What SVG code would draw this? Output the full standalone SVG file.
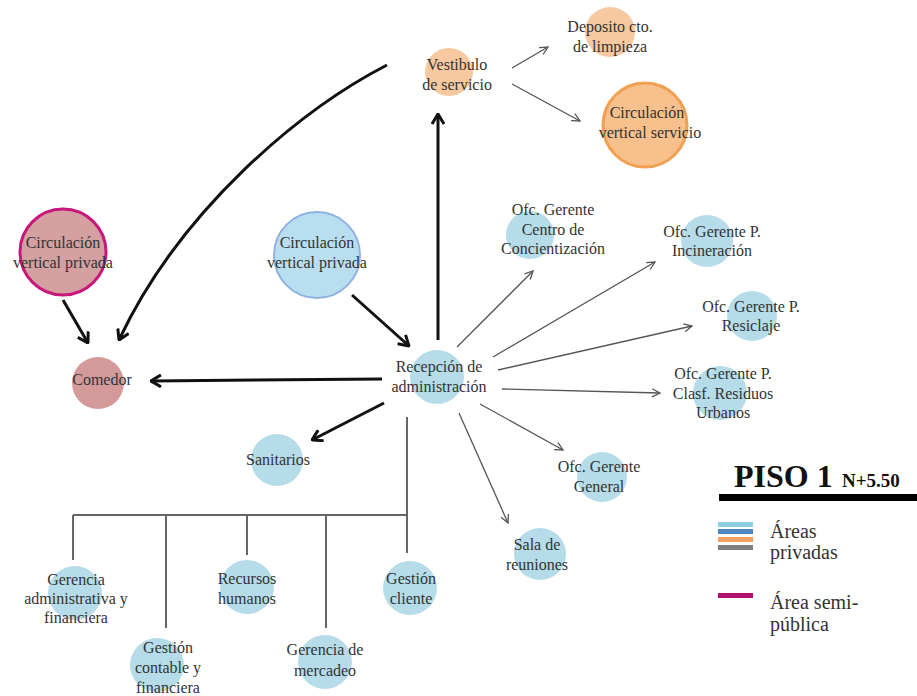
<svg xmlns="http://www.w3.org/2000/svg" width="917" height="696" viewBox="0 0 917 696">
<defs>
<style>
text{font-family:"Liberation Serif","DejaVu Serif",serif;fill:#333;}
.n{font-size:16px;text-anchor:middle;}
.lg{font-size:20px;}
.bl{fill:#b5dce8;}
.thick{stroke:#111;stroke-width:3;fill:none;}
.thin{stroke:#555;stroke-width:1.3;fill:none;}
.tree{stroke:#666;stroke-width:2;fill:none;}
</style>
<marker id="ah" viewBox="0 0 12 14" refX="11" refY="7" markerWidth="12" markerHeight="14" markerUnits="userSpaceOnUse" orient="auto"><path d="M1,1 L11,7 L1,13" fill="none" stroke="#111" stroke-width="3"/></marker>
<marker id="at" viewBox="0 0 10 10" refX="9" refY="5" markerWidth="10" markerHeight="10" markerUnits="userSpaceOnUse" orient="auto"><path d="M1,1 L9,5 L1,9" fill="none" stroke="#555" stroke-width="1.3"/></marker>
</defs>
<rect width="917" height="696" fill="#fff"/>

<g id="connectors">
<path class="thick" d="M438,340 L438,114" marker-end="url(#ah)"/>
<path class="thick" d="M387,65 C300,110 180,210 119,340" marker-end="url(#ah)"/>
<path class="thick" d="M63,300 L88,343" marker-end="url(#ah)"/>
<path class="thick" d="M352,295 L409,346" marker-end="url(#ah)"/>
<path class="thick" d="M382,379 L151,381" marker-end="url(#ah)"/>
<path class="thick" d="M384,403 L312,440" marker-end="url(#ah)"/>
<path class="thin" d="M512,68 L548,47" marker-end="url(#at)"/>
<path class="thin" d="M512,84 L580,121" marker-end="url(#at)"/>
<path class="thin" d="M457,347 L533,271" marker-end="url(#at)"/>
<path class="thin" d="M493,357 L655,262" marker-end="url(#at)"/>
<path class="thin" d="M498,370 L692,326" marker-end="url(#at)"/>
<path class="thin" d="M502,389 L660,393" marker-end="url(#at)"/>
<path class="thin" d="M480,404 L563,450" marker-end="url(#at)"/>
<path class="thin" d="M459,413 L508,523" marker-end="url(#at)"/>
<path class="tree" d="M407,417 L407,553 M73,515 L407,515 M73,515 L73,560 M166,515 L166,628 M247,515 L247,555 M326,515 L326,628"/>
</g>

<g id="vestibulo">
<circle cx="449" cy="72" r="24" fill="#f7c9a0"/>
<text class="n" x="457" y="70">Vestibulo</text>
<text class="n" x="457" y="90">de servicio</text>
</g>
<g id="deposito">
<circle cx="610" cy="32" r="25" fill="#f7c9a0"/>
<text class="n" x="610" y="32">Deposito cto.</text>
<text class="n" x="610" y="52">de limpieza</text>
</g>
<g id="circ-servicio">
<circle cx="645" cy="125" r="42" fill="#f7c08c" stroke="#f0a050" stroke-width="3"/>
<text class="n" x="647" y="118">Circulación</text>
<text class="n" x="650" y="138">vertical servicio</text>
</g>
<g id="circ-privada-semi">
<circle cx="63" cy="252" r="43" fill="#d4a0a0" stroke="#c8187c" stroke-width="3"/>
<text class="n" x="63" y="248">Circulación</text>
<text class="n" x="63" y="268">vertical privada</text>
</g>
<g id="comedor">
<circle cx="98" cy="383" r="26" fill="#d49a9a"/>
<text class="n" x="102" y="385">Comedor</text>
</g>
<g id="circ-privada">
<circle cx="317" cy="255" r="43" fill="#b8def0" stroke="#8fb2e2" stroke-width="2"/>
<text class="n" x="317" y="248">Circulación</text>
<text class="n" x="317" y="268">vertical privada</text>
</g>
<g id="recepcion">
<circle class="bl" cx="437" cy="377" r="27"/>
<text class="n" x="439" y="372">Recepción de</text>
<text class="n" x="439" y="392">administración</text>
</g>
<g id="concientizacion">
<circle class="bl" cx="530" cy="235" r="24"/>
<text class="n" x="553" y="215">Ofc. Gerente</text>
<text class="n" x="553" y="235">Centro de</text>
<text class="n" x="553" y="254">Concientización</text>
</g>
<g id="incineracion">
<circle class="bl" cx="707" cy="241" r="26"/>
<text class="n" x="712" y="237">Ofc. Gerente P.</text>
<text class="n" x="712" y="256">Incineración</text>
</g>
<g id="resiclaje">
<circle class="bl" cx="752" cy="316" r="25"/>
<text class="n" x="751" y="312">Ofc. Gerente P.</text>
<text class="n" x="751" y="331">Resiclaje</text>
</g>
<g id="clasf">
<circle class="bl" cx="720" cy="393" r="27"/>
<text class="n" x="723" y="379">Ofc. Gerente P.</text>
<text class="n" x="723" y="399">Clasf. Residuos</text>
<text class="n" x="723" y="418">Urbanos</text>
</g>
<g id="general">
<circle class="bl" cx="602" cy="477" r="25"/>
<text class="n" x="599" y="472">Ofc. Gerente</text>
<text class="n" x="599" y="492">General</text>
</g>
<g id="sala">
<circle class="bl" cx="540" cy="554" r="26"/>
<text class="n" x="537" y="550">Sala de</text>
<text class="n" x="537" y="570">reuniones</text>
</g>
<g id="sanitarios">
<circle class="bl" cx="277" cy="460" r="26"/>
<text class="n" x="278" y="465">Sanitarios</text>
</g>
<g id="gerencia-admin">
<circle class="bl" cx="75" cy="593" r="27"/>
<text class="n" x="76" y="585">Gerencia</text>
<text class="n" x="76" y="604">administrativa y</text>
<text class="n" x="76" y="623">financiera</text>
</g>
<g id="gestion-contable">
<circle class="bl" cx="157" cy="665" r="27"/>
<text class="n" x="168" y="653">Gestión</text>
<text class="n" x="168" y="673">contable y</text>
<text class="n" x="168" y="693">financiera</text>
</g>
<g id="recursos">
<circle class="bl" cx="247" cy="587" r="27"/>
<text class="n" x="247" y="584">Recursos</text>
<text class="n" x="247" y="604">humanos</text>
</g>
<g id="mercadeo">
<circle class="bl" cx="325" cy="662" r="27"/>
<text class="n" x="325" y="655">Gerencia de</text>
<text class="n" x="325" y="676">mercadeo</text>
</g>
<g id="gestion-cliente">
<circle class="bl" cx="410" cy="588" r="27"/>
<text class="n" x="411" y="584">Gestión</text>
<text class="n" x="411" y="604">cliente</text>
</g>

<g id="legend">
<text x="734" y="487" style="font-size:32px;font-weight:bold;fill:#111">PISO 1</text>
<text x="842" y="487" style="font-size:19px;font-weight:bold;fill:#111">N+5.50</text>
<rect x="719" y="494" width="198" height="7" fill="#000"/>
<rect x="718" y="522" width="35" height="5" fill="#8dcfe0"/>
<rect x="718" y="529" width="35" height="5" fill="#4f86c0"/>
<rect x="718" y="537" width="35" height="5" fill="#f0a060"/>
<rect x="718" y="545" width="35" height="5" fill="#7f7f7f"/>
<text class="lg" x="770" y="538">Áreas</text>
<text class="lg" x="770" y="559">privadas</text>
<rect x="718" y="593" width="35" height="5" fill="#b0106e"/>
<text class="lg" x="770" y="609">Área semi-</text>
<text class="lg" x="770" y="631">pública</text>
</g>
</svg>
